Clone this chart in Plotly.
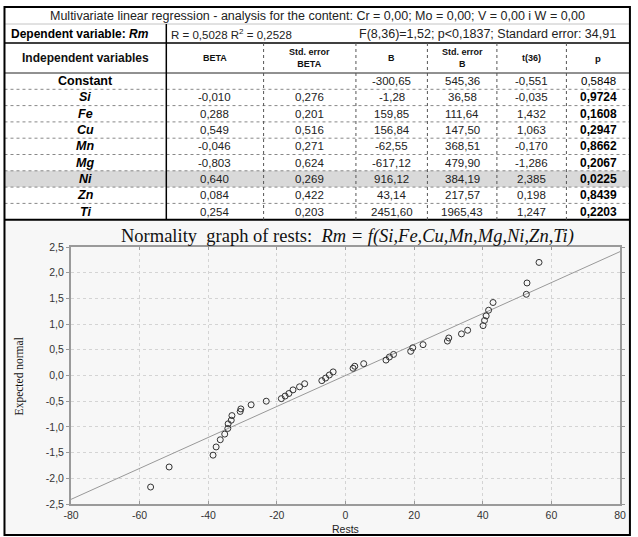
import plotly.graph_objects as go

# ---------------- data ----------------
table_title = "Multivariate linear regression - analysis for the content: Cr = 0,00; Mo = 0,00; V = 0,00 i W = 0,00"
dep_text = "Dependent variable: "
dep_var = "Rm"
r_text = "R = 0,5028 R<sup>2</sup> = 0,2528"
f_text = "F(8,36)=1,52; p<0,1837; Standard error: 34,91"
headers = ["Independent variables", "BETA", "Std. error<br>BETA", "B", "Std. error<br>B", "t(36)", "p"]

variables = ["Constant", "Si", "Fe", "Cu", "Mn", "Mg", "Ni", "Zn", "Ti"]
beta = ["", "-0,010", "0,288", "0,549", "-0,046", "-0,803", "0,640", "0,084", "0,254"]
std_beta = ["", "0,276", "0,201", "0,516", "0,271", "0,624", "0,269", "0,422", "0,203"]
b_vals = ["-300,65", "-1,28", "159,85", "156,84", "-62,55", "-617,12", "916,12", "43,14", "2451,60"]
std_b = ["545,36", "36,58", "111,64", "147,50", "368,51", "479,90", "384,19", "217,57", "1965,43"]
t_vals = ["-0,551", "-0,035", "1,432", "1,063", "-0,170", "-1,286", "2,385", "0,198", "1,247"]
p_vals = ["0,5848", "0,9724", "0,1608", "0,2947", "0,8662", "0,2067", "0,0225", "0,8439", "0,2203"]
highlight_var = "Ni"

residuals = [-56.8, -51.4, -38.6, -37.7, -36.5, -35.2, -34.3, -34.2, -33.3, -33.1,
             -30.7, -30.5, -27.5, -23.1, -18.7, -17.6, -16.5, -15.3, -13.4, -11.9,
             -6.9, -5.8, -4.7, -3.6, 2.2, 2.7, 5.3, 11.8, 12.8, 14.0,
             19.0, 19.6, 22.6, 29.7, 30.1, 33.8, 35.6, 40.1, 40.5, 41.0,
             41.7, 43.0, 52.7, 52.9, 56.4]
expected = [-2.17, -1.78, -1.55, -1.39, -1.25, -1.14, -1.03, -0.94, -0.87, -0.78,
            -0.70, -0.65, -0.57, -0.50, -0.45, -0.40, -0.35, -0.28, -0.22, -0.16,
            -0.10, -0.05, 0.01, 0.07, 0.14, 0.18, 0.23, 0.30, 0.36, 0.41,
            0.47, 0.54, 0.60, 0.67, 0.73, 0.81, 0.88, 0.97, 1.07, 1.16,
            1.27, 1.42, 1.58, 1.80, 2.20]
fit_x = [-80, 80]
fit_y = [-2.41, 2.41]

x_ticks = [-80, -60, -40, -20, 0, 20, 40, 60, 80]
x_ticktext = ["-80", "-60", "-40", "-20", "0", "20", "40", "60", "80"]
y_ticks = [-2.5, -2.0, -1.5, -1.0, -0.5, 0.0, 0.5, 1.0, 1.5, 2.0, 2.5]
y_ticktext = ["-2,5", "-2,0", "-1,5", "-1,0", "-0,5", "0,0", "0,5", "1,0", "1,5", "2,0", "2,5"]

plot_title = "Normality  graph of rests:  <i>Rm = f(Si,Fe,Cu,Mn,Mg,Ni,Zn,Ti)</i>"
y_title = "Expected normal"
x_title = "Rests"

# ---------------- layout helpers (pixel -> paper) ----------------
W, H = 638, 537
PL, PR, PT, PB = 71, 624, 247, 504


def px(x):
    return (x - PL) / (PR - PL)


def py(y):
    return (PB - y) / (PB - PT)


SANS = "Liberation Sans, Arial, sans-serif"
SERIF = "Liberation Serif, Times New Roman, serif"

col_x = [4, 167, 265, 358, 430, 500, 570, 634]
row_top = 73
row_h = 16.3
n_rows = len(variables)
table_bottom = row_top + row_h * n_rows

shapes = []
annots = []


def line(x0, y0, x1, y1, color="#000", width=1, dash="solid"):
    shapes.append(dict(type="line", xref="paper", yref="paper",
                       x0=px(x0), y0=py(y0), x1=px(x1), y1=py(y1),
                       line=dict(color=color, width=width, dash=dash)))


def rect(x0, y0, x1, y1, fill, lc=None, lw=0, layer="below"):
    shapes.append(dict(type="rect", xref="paper", yref="paper", layer=layer,
                       x0=px(x0), y0=py(y0), x1=px(x1), y1=py(y1),
                       fillcolor=fill, line=dict(color=lc or fill, width=lw)))


def text(x, y, s, size=11, color="#111", anchor="center", family=SANS, angle=0):
    if not s:
        return
    annots.append(dict(xref="paper", yref="paper", x=px(x), y=py(y), text=s,
                       showarrow=False, xanchor=anchor, yanchor="middle",
                       textangle=angle, font=dict(family=family, size=size, color=color)))


# lower panel background
rect(4, table_bottom, 634, 535, "#f7f7f7")

# highlighted row
hi = variables.index(highlight_var)
rect(col_x[0], row_top + hi * row_h, col_x[-1], row_top + (hi + 1) * row_h, "#d9d9d9")

# horizontal lines
line(4, 24, 634, 24, "#c4c4c4", 1)
line(4, 43, 634, 43, "#000", 1.5)
line(4, row_top, 634, row_top, "#222", 1)
for i in range(1, n_rows):
    yy = row_top + i * row_h
    line(4, yy, 634, yy, "#888", 1, "dot")
line(4, table_bottom, 634, table_bottom, "#000", 2)

# vertical lines
line(col_x[1], 24, col_x[1], table_bottom, "#000", 1.5)
for cx in col_x[2:-1]:
    line(cx, 43, cx, table_bottom, "#555", 1, "dot")

# outer frame
rect(4, 7, 634, 535, "rgba(0,0,0,0)", "#000", 2, layer="above")

# table texts
text((col_x[0] + col_x[-1]) / 2, 15.5, table_title, 12.5, "#222")
text(9, 34, "<b>" + dep_text + "<i>" + dep_var + "</i></b>", 12, "#000", "left")
text(170, 34, r_text, 11.5, "#222", "left")
text(359, 34, f_text, 12.5, "#222", "left")

hdr_sizes = [12, 9, 9, 9, 9, 9, 9.5]
for j, h in enumerate(headers):
    text((col_x[j] + col_x[j + 1]) / 2, 58, "<b>" + h + "</b>", hdr_sizes[j], "#111")

for i, v in enumerate(variables):
    yc = row_top + (i + 0.5) * row_h
    name = "<b>" + v + "</b>" if v == "Constant" else "<b><i>" + v + "</i></b>"
    text((col_x[0] + col_x[1]) / 2, yc, name, 12.5, "#000")
    cols = [beta[i], std_beta[i], b_vals[i], std_b[i], t_vals[i]]
    for j, val in enumerate(cols):
        text((col_x[j + 1] + col_x[j + 2]) / 2, yc, val, 11.5, "#222")
    pv = p_vals[i] if v == "Constant" else "<b>" + p_vals[i] + "</b>"
    text((col_x[6] + col_x[7]) / 2, yc, pv, 11.5 if v == "Constant" else 12, "#000")

# plot titles
text(350, 237, plot_title, 18.5, "#111", family=SERIF)
text(19, 376, y_title, 11.5, "#111", family=SERIF, angle=-90)
text(347, 529, x_title, 10.5, "#222")

# ---------------- figure ----------------
fig = go.Figure()
fig.add_trace(go.Scatter(x=fit_x, y=fit_y, mode="lines",
                         line=dict(color="#999999", width=1), hoverinfo="skip"))
fig.add_trace(go.Scatter(x=residuals, y=expected, mode="markers",
                         marker=dict(symbol="circle-open", size=6,
                                     line=dict(color="#333", width=1), color="#333")))

axis_common = dict(showgrid=True, gridcolor="#d4d4d4", griddash="dot", gridwidth=1,
                   showline=True, linecolor="#9a9a9a", linewidth=2, mirror="ticks",
                   ticklen=3, tickcolor="#9a9a9a", zeroline=False,
                   tickfont=dict(family=SANS, size=10.5, color="#333"))

fig.update_xaxes(range=[-80, 80], tickvals=x_ticks, ticktext=x_ticktext,
                 ticks="inside", **axis_common)
fig.update_yaxes(range=[-2.5, 2.5], tickvals=y_ticks, ticktext=y_ticktext,
                 ticks="outside", **axis_common)

fig.update_layout(width=W, height=H, showlegend=False,
                  margin=dict(l=PL, r=W - PR, t=PT, b=H - PB),
                  paper_bgcolor="white", plot_bgcolor="white",
                  shapes=shapes, annotations=annots)

fig.write_html("out.html", config={"displayModeBar": False},
               post_script="document.body.style.margin='0';document.body.style.overflow='hidden';")
